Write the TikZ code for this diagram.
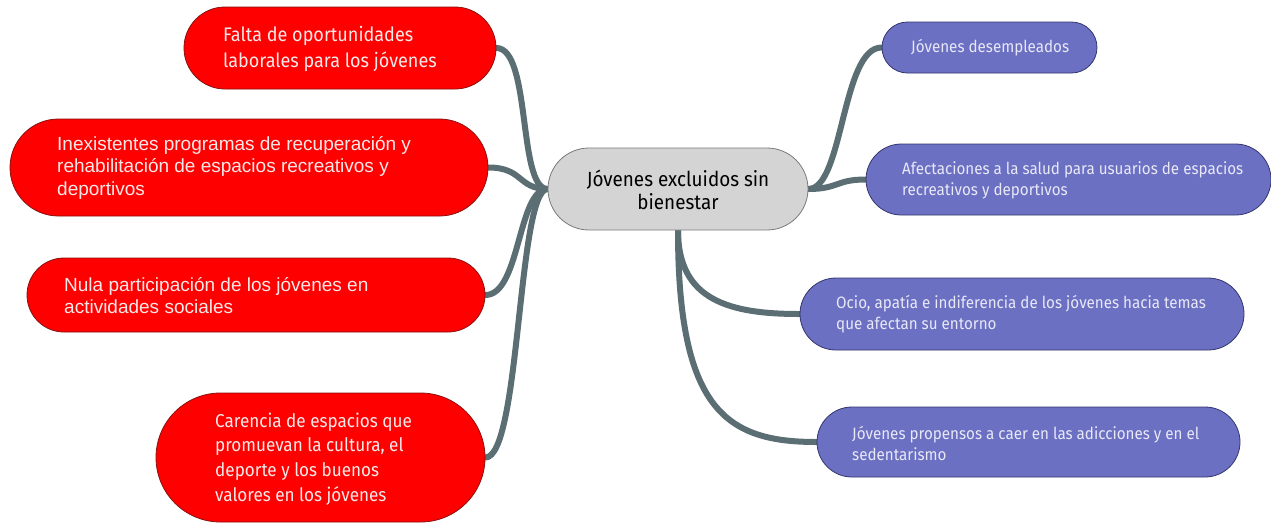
\documentclass[tikz,border=0pt]{standalone}
\usepackage{fontspec}
\usetikzlibrary{shapes.misc,backgrounds}
\newfontfamily\cond[FakeStretch=0.92]{Fira Sans}
\newfontfamily\rob{Liberation Sans}
\definecolor{redf}{HTML}{FF0000}
\definecolor{redb}{HTML}{8B1010}
\definecolor{bluef}{HTML}{6B70C2}
\definecolor{blueb}{HTML}{33366E}
\definecolor{link}{HTML}{5B6E73}
\definecolor{grayf}{HTML}{D4D4D4}
\definecolor{grayb}{HTML}{7A7A7A}
\definecolor{txtr}{HTML}{F7E8E8}
\definecolor{txtb}{HTML}{E8E8F7}
\begin{document}
\begin{tikzpicture}[x=1pt,y=-1pt,
  pill/.style={rounded rectangle, inner sep=0pt, line width=0.8pt},
  redpill/.style={pill, fill=redf, draw=redb},
  bluepill/.style={pill, fill=bluef, draw=blueb},
  graypill/.style={pill, fill=grayf, draw=grayb},
  lbl/.style={anchor=west, inner sep=0pt, align=left},
  rtxt/.style={lbl, text=txtr},
  btxt/.style={lbl, text=txtb},
  conn/.style={draw=link, line width=6pt, line cap=round}]
\useasboundingbox (0,0) rectangle (1271,523);
% pills
\node[graypill, minimum width=260pt, minimum height=82pt] (c) at (678,189) {};
\node[redpill, minimum width=312pt, minimum height=82pt] (r1) at (340,48) {};
\node[redpill, minimum width=478pt, minimum height=97pt] (r2) at (249,167.5) {};
\node[redpill, minimum width=458pt, minimum height=74pt] (r3) at (256,295) {};
\node[redpill, minimum width=329pt, minimum height=129pt] (r4) at (320.5,457.5) {};
\node[bluepill, minimum width=215pt, minimum height=51pt] (b1) at (989.5,47.5) {};
\node[bluepill, minimum width=405pt, minimum height=71pt] (b2) at (1068.5,179.5) {};
\node[bluepill, minimum width=444pt, minimum height=72pt] (b3) at (1022,314) {};
\node[bluepill, minimum width=423pt, minimum height=70pt] (b4) at (1028.5,442) {};
% texts
\node[inner sep=0pt, align=center, font=\cond\fontsize{20.5}{23}\selectfont] (ct) at (678,189.5) {Jóvenes excluidos sin\\bienestar};
\node[rtxt, font=\cond\fontsize{19.6}{26}\selectfont] (r1t) at (223,49) {Falta de oportunidades\\laborales para los jóvenes};
\node[rtxt, font=\rob\fontsize{19}{22.5}\selectfont] (r2t) at (57,167.5) {Inexistentes programas de recuperación y\\rehabilitación de espacios recreativos y\\deportivos};
\node[rtxt, font=\rob\fontsize{19}{22}\selectfont] (r3t) at (64,296) {Nula participación de los jóvenes en\\actividades sociales};
\node[rtxt, font=\cond\fontsize{18.6}{24.7}\selectfont] (r4t) at (215,459) {Carencia de espacios que\\promuevan la cultura, el\\deporte y los buenos\\valores en los jóvenes};
\node[btxt, font=\cond\fontsize{16.5}{21}\selectfont] (b1t) at (911,48) {Jóvenes desempleados};
\node[btxt, font=\cond\fontsize{16.5}{21}\selectfont] (b2t) at (902,180.5) {Afectaciones a la salud para usuarios de espacios\\recreativos y deportivos};
\node[btxt, font=\cond\fontsize{16.5}{21}\selectfont] (b3t) at (836,314.5) {Ocio, apatía e indiferencia de los jóvenes hacia temas\\que afectan su entorno};
\node[btxt, font=\cond\fontsize{16.5}{21}\selectfont] (b4t) at (852,443.5) {Jóvenes propensos a caer en las adicciones y en el\\sedentarismo};
% connectors
\begin{pgfonlayer}{background}
\draw[conn] (r1.east) .. controls +(35,0) and +(-30,0) .. (c.west);
\draw[conn] (r2.east) .. controls +(35,0) and +(-30,0) .. (c.west);
\draw[conn] (r3.east) .. controls +(35,0) and +(-30,0) .. (c.west);
\draw[conn] (r4.east) .. controls +(35,0) and +(-30,0) .. (c.west);
\draw[conn] (c.east) .. controls +(35,0) and +(-40,0) .. (b1.west);
\draw[conn] (c.east) .. controls +(30,0) and +(-30,0) .. (b2.west);
\draw[conn] (c.south) .. controls +(0,70) and +(-70,0) .. (b3.west);
\draw[conn] (c.south) .. controls +(0,180) and +(-90,0) .. (b4.west);
\end{pgfonlayer}
\end{tikzpicture}
\end{document}
